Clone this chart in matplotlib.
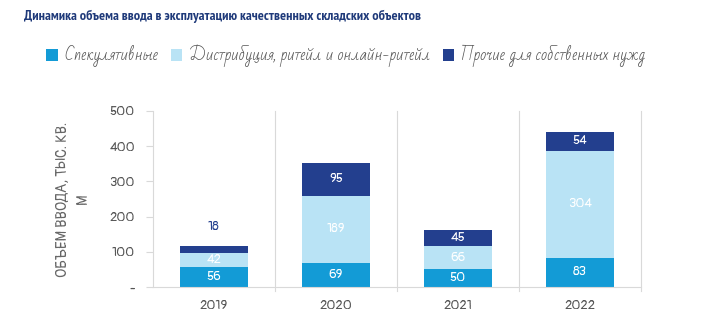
import numpy as np
import matplotlib.pyplot as plt

years = ["2019", "2020", "2021", "2022"]
spec = [56, 69, 50, 83]
distr = [42, 189, 66, 304]
other = [18, 95, 45, 54]
series_names = ["Спекулятивные", "Дистрибуция, ритейл и онлайн-ритейл", "Прочие для собственных нужд"]
colors = ["#139bd6", "#b9e3f5", "#233f8e"]
yticks = [0, 100, 200, 300, 400, 500]
ytick_labels = ["-", "100", "200", "300", "400", "500"]

hand = ["Bad Script", "DejaVu Sans"]
nums = ["Pangolin", "DejaVu Sans"]
plt.rcParams["font.family"] = nums

fig = plt.figure(figsize=(7.02, 3.32), dpi=100)
ax = fig.add_axes([153 / 702, 1 - 287 / 332, 488 / 702, 176 / 332])

x = np.arange(len(years))
w = 0.56
b1 = ax.bar(x, spec, w, color=colors[0], label=series_names[0])
b2 = ax.bar(x, distr, w, bottom=spec, color=colors[1], label=series_names[1])
bottom3 = np.array(spec) + np.array(distr)
b3 = ax.bar(x, other, w, bottom=bottom3, color=colors[2], label=series_names[2])

lab = dict(fontsize=9.5, ha="center", va="center")
for i in range(len(years)):
    ax.text(x[i], spec[i] / 2, str(spec[i]), color="white", **lab)
    ax.text(x[i], spec[i] + distr[i] / 2, str(distr[i]), color="white", **lab)
    top = bottom3[i] + other[i]
    if other[i] < 25:
        ax.annotate(str(other[i]), (x[i], top), xytext=(0, 14), textcoords="offset points",
                    color=colors[2], **lab)
    else:
        ax.text(x[i], bottom3[i] + other[i] / 2, str(other[i]), color="white", **lab)

ax.set_xlim(-0.5, len(years) - 0.5)
ax.set_ylim(0, 500)
for b in np.arange(0.5, len(years), 1):
    ax.axvline(b, color="#d9d9d9", lw=0.8, ymin=-0.02, ymax=1, clip_on=False)

ax.set_xticks(x)
ax.set_xticklabels(years, fontsize=9.5, color="#555555")
ax.tick_params(axis="x", length=0, pad=9)
ax.set_yticks(yticks)
ax.set_yticklabels(ytick_labels, fontsize=9.5, color="#555555")
ax.tick_params(axis="y", length=5, color="#d9d9d9", pad=8)
for s in ["top", "right"]:
    ax.spines[s].set_visible(False)
for s in ["left", "bottom"]:
    ax.spines[s].set_color("#d9d9d9")
    ax.spines[s].set_linewidth(0.8)

ax.set_ylabel("ОБЪЕМ ВВОДА, ТЫС. КВ.\nМ", fontsize=10.5, color="#666666",
              labelpad=14, linespacing=1.5)

fig.text(24 / 702, 1 - 16 / 332, "Динамика объема ввода в эксплуатацию качественных складских объектов",
         fontsize=10.2, fontweight="bold", color="#1f3a7a", va="center",
         family=["PT Sans Narrow", "DejaVu Sans"])

fig.legend(handles=[b1, b2, b3], loc="center", bbox_to_anchor=(346 / 702, 1 - 56 / 332), ncol=3,
           frameon=False, prop={"family": hand, "size": 11.6},
           handlelength=0.7, handleheight=0.8, handletextpad=0.4, columnspacing=0.8,
           labelcolor="#555555")

fig.savefig("out.png", dpi=100)
